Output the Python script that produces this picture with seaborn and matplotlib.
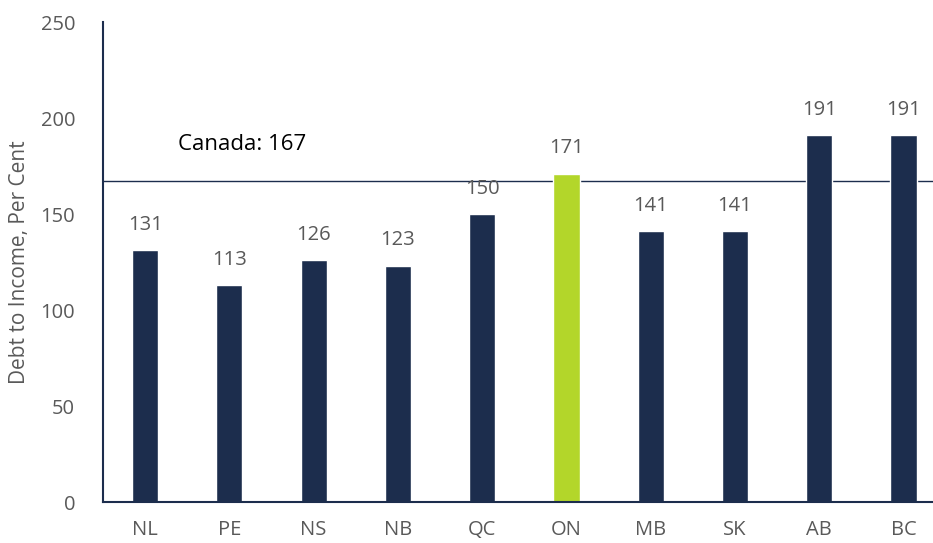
import numpy as np
import pandas as pd
import matplotlib
matplotlib.use('Agg')
import matplotlib.pyplot as plt
import seaborn as sns

provinces = ['NL', 'PE', 'NS', 'NB', 'QC', 'ON', 'MB', 'SK', 'AB', 'BC']
debt_to_income = [131, 113, 126, 123, 150, 171, 141, 141, 191, 191]
canada_avg = 167
highlight = 'ON'

navy = '#1c2d4d'
lime = '#b3d62a'
grey = '#595959'

sns.set_theme(style='white')
plt.rcParams['font.family'] = ['Open Sans', 'DejaVu Sans']

df = pd.DataFrame({'province': provinces, 'ratio': debt_to_income})
colors = [lime if p == highlight else navy for p in provinces]

fig = plt.figure(figsize=(9.33, 5.43), dpi=100)
ax = fig.add_axes([103 / 933, (543 - 502) / 543, (933 - 103) / 933, 480 / 543])

sns.barplot(data=df, x='province', y='ratio', hue='province', palette=colors,
            legend=False, width=0.31, saturation=1, ax=ax)

# value labels above bars
for i, v in enumerate(debt_to_income):
    ax.text(i, v + 8, str(v), ha='center', va='bottom', fontsize=14.5, color=grey)

# Canada reference line
ax.axhline(canada_avg, color=navy, linewidth=1, zorder=0)
ax.text(0.39, 186, 'Canada: 167', ha='left', va='center', fontsize=16, color='black')

ax.set_ylim(0, 250)
ax.set_xlim(-0.5, 9.35)
ax.set_yticks(range(0, 251, 50))
ax.set_xlabel('')
ax.set_ylabel('Debt to Income, Per Cent', fontsize=15, color=grey)
ax.yaxis.set_label_coords(-0.088, 0.5)
ax.tick_params(axis='both', colors=grey, labelsize=14.5, length=0)
ax.tick_params(axis='x', pad=13)
ax.tick_params(axis='y', pad=20)

sns.despine(ax=ax, top=True, right=True)
for s in ['left', 'bottom']:
    ax.spines[s].set_color(navy)
    ax.spines[s].set_linewidth(1.5)

fig.savefig('out.png', dpi=100)
